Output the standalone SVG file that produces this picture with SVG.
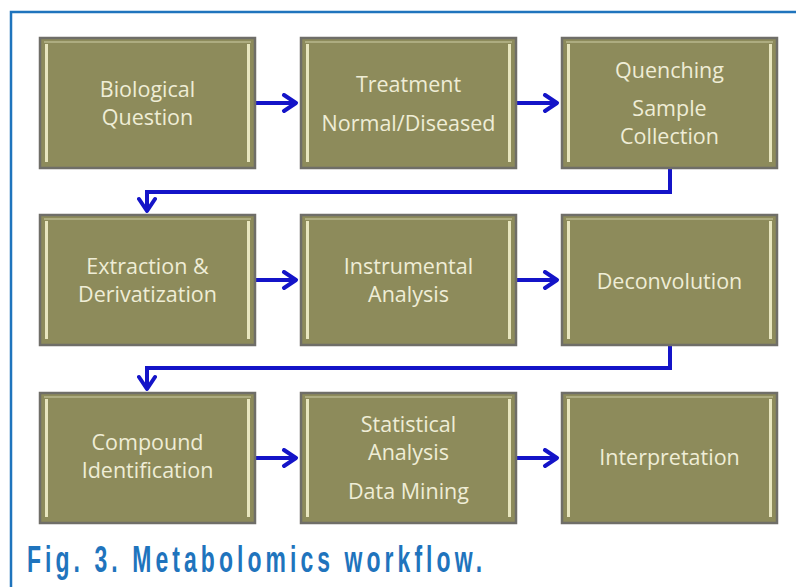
<svg xmlns="http://www.w3.org/2000/svg" width="796" height="587" viewBox="0 0 796 587">
<defs>
<style>
.box{fill:#8d8b5b;stroke:#6f6e68;stroke-width:2.5}
.strip{fill:#e8e6bf}
.hl{stroke:#b9b78c;stroke-width:1.5;fill:none}
.lbl{font-family:"Open Sans","Liberation Sans",sans-serif;font-size:21.5px;fill:#efedd6;text-anchor:middle}
.con{fill:none;stroke:#1414c8;stroke-width:4;stroke-linejoin:miter}
.cap{font-family:"Liberation Sans",sans-serif;font-size:37px;font-weight:bold;fill:#1f74bd}
</style>
<marker id="arrH" viewBox="0 0 20 20" refX="17" refY="10" markerWidth="20" markerHeight="20" markerUnits="userSpaceOnUse" orient="auto">
<path d="M5,2 L17,10 L5,18" fill="none" stroke="#1414c8" stroke-width="4" stroke-linecap="round" stroke-linejoin="round"/>
</marker>
</defs>
<rect x="0" y="0" width="796" height="587" fill="#ffffff"/>
<g id="frame">
<path d="M11,587 V12 H796" fill="none" stroke="#1f74bd" stroke-width="2.5"/>
</g>
<g id="connectors">
<path class="con" d="M255,103 H296" marker-end="url(#arrH)"/>
<path class="con" d="M516,103 H557" marker-end="url(#arrH)"/>
<path class="con" d="M670,168 V192 H147 V211" marker-end="url(#arrH)"/>
<path class="con" d="M255,280 H296" marker-end="url(#arrH)"/>
<path class="con" d="M516,280 H557" marker-end="url(#arrH)"/>
<path class="con" d="M670,345 V368 H147 V389" marker-end="url(#arrH)"/>
<path class="con" d="M255,458 H296" marker-end="url(#arrH)"/>
<path class="con" d="M516,458 H557" marker-end="url(#arrH)"/>
</g>
<g id="n1">
<rect class="box" x="40" y="38" width="215" height="130"/>
<line class="hl" x1="44" y1="42" x2="251" y2="42"/>
<rect class="strip" x="45" y="44" width="3" height="118"/>
<rect class="strip" x="247" y="44" width="3" height="118"/>
<text class="lbl" x="147.5" y="97">Biological</text>
<text class="lbl" x="147.5" y="125">Question</text>
</g>
<g id="n2">
<rect class="box" x="301" y="38" width="215" height="130"/>
<line class="hl" x1="305" y1="42" x2="512" y2="42"/>
<rect class="strip" x="306" y="44" width="3" height="118"/>
<rect class="strip" x="508" y="44" width="3" height="118"/>
<text class="lbl" x="408.5" y="92">Treatment</text>
<text class="lbl" x="408.5" y="131">Normal/Diseased</text>
</g>
<g id="n3">
<rect class="box" x="562" y="38" width="215" height="130"/>
<line class="hl" x1="566" y1="42" x2="773" y2="42"/>
<rect class="strip" x="567" y="44" width="3" height="118"/>
<rect class="strip" x="769" y="44" width="3" height="118"/>
<text class="lbl" x="669.5" y="78">Quenching</text>
<text class="lbl" x="669.5" y="116">Sample</text>
<text class="lbl" x="669.5" y="144">Collection</text>
</g>
<g id="n4">
<rect class="box" x="40" y="215" width="215" height="130"/>
<line class="hl" x1="44" y1="219" x2="251" y2="219"/>
<rect class="strip" x="45" y="221" width="3" height="118"/>
<rect class="strip" x="247" y="221" width="3" height="118"/>
<text class="lbl" x="147.5" y="274">Extraction &amp;</text>
<text class="lbl" x="147.5" y="302">Derivatization</text>
</g>
<g id="n5">
<rect class="box" x="301" y="215" width="215" height="130"/>
<line class="hl" x1="305" y1="219" x2="512" y2="219"/>
<rect class="strip" x="306" y="221" width="3" height="118"/>
<rect class="strip" x="508" y="221" width="3" height="118"/>
<text class="lbl" x="408.5" y="274">Instrumental</text>
<text class="lbl" x="408.5" y="302">Analysis</text>
</g>
<g id="n6">
<rect class="box" x="562" y="215" width="215" height="130"/>
<line class="hl" x1="566" y1="219" x2="773" y2="219"/>
<rect class="strip" x="567" y="221" width="3" height="118"/>
<rect class="strip" x="769" y="221" width="3" height="118"/>
<text class="lbl" x="669.5" y="289">Deconvolution</text>
</g>
<g id="n7">
<rect class="box" x="40" y="393" width="215" height="130"/>
<line class="hl" x1="44" y1="397" x2="251" y2="397"/>
<rect class="strip" x="45" y="399" width="3" height="118"/>
<rect class="strip" x="247" y="399" width="3" height="118"/>
<text class="lbl" x="147.5" y="450">Compound</text>
<text class="lbl" x="147.5" y="478">Identification</text>
</g>
<g id="n8">
<rect class="box" x="301" y="393" width="215" height="130"/>
<line class="hl" x1="305" y1="397" x2="512" y2="397"/>
<rect class="strip" x="306" y="399" width="3" height="118"/>
<rect class="strip" x="508" y="399" width="3" height="118"/>
<text class="lbl" x="408.5" y="432">Statistical</text>
<text class="lbl" x="408.5" y="460">Analysis</text>
<text class="lbl" x="408.5" y="499">Data Mining</text>
</g>
<g id="n9">
<rect class="box" x="562" y="393" width="215" height="130"/>
<line class="hl" x1="566" y1="397" x2="773" y2="397"/>
<rect class="strip" x="567" y="399" width="3" height="118"/>
<rect class="strip" x="769" y="399" width="3" height="118"/>
<text class="lbl" x="669.5" y="465">Interpretation</text>
</g>
<g id="caption">
<text class="cap" transform="translate(27,572) scale(0.62,1)" x="0" y="0" textLength="734" lengthAdjust="spacing">Fig. 3. Metabolomics workflow.</text>
</g>
</svg>
